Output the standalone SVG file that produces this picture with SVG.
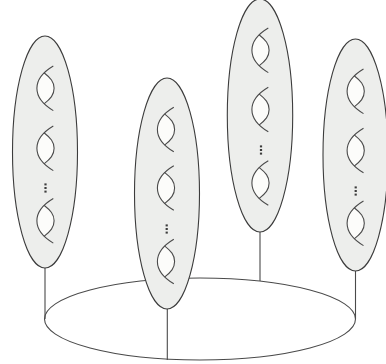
<svg xmlns="http://www.w3.org/2000/svg" width="386" height="364" viewBox="0 0 386 364">
<style>
.l{fill:none;stroke:#4a4a4a;stroke-width:1.1}
.t{fill:none;stroke:#4a4a4a;stroke-width:1.1}
.o{fill:#edeeec;stroke:#3c3c3c;stroke-width:1.1}
.h{fill:#fcfcfa;stroke:none}
.d{fill:#3c3c3c}
</style>
<defs>
<g id="twist">
<path class="h" d="M-1.500 -15.600C-6 -11 -8.600 -6 -8.600 0C-8.600 6 -6 11 -1.500 15.600C5 10.500 8.600 6.500 8.600 0C8.600 -6.500 5 -10.500 -1.500 -15.600Z"/>
<path class="t" d="M7.800 -22.300C-2 -16.500 -8.600 -8.500 -8.600 0C-8.600 8.500 -2 16.500 7.800 22.300"/>
<path class="t" d="M-1.500 -15.600C5 -10.500 8.600 -6.500 8.600 0C8.600 6.500 5 10.500 -1.500 15.600"/>
</g>
<g id="dots">
<rect class="d" x="-1.100" y="-4.600" width="2.200" height="2"/>
<rect class="d" x="-1.100" y="-1" width="2.200" height="2"/>
<rect class="d" x="-1.100" y="2.600" width="2.200" height="2"/>
</g>
</defs>
<g id="connectors">
<path class="l" d="M45 268V319M167.300 309V360M260 232V281M355.500 271V319"/>
</g>
<g id="base"><ellipse class="l" cx="200" cy="319" rx="155.500" ry="41"/></g>
<g id="node-1">
<ellipse class="o" cx="45" cy="152" rx="32.500" ry="116"/>
<use href="#twist" x="45.500" y="88.300"/><use href="#twist" x="45.500" y="148.300"/><use href="#dots" x="45.500" y="188"/><use href="#twist" x="45.500" y="220.800"/>
</g>
<g id="node-2">
<ellipse class="o" cx="167" cy="193.500" rx="32.500" ry="115.500"/>
<use href="#twist" x="166" y="129.500"/><use href="#twist" x="166" y="188"/><use href="#dots" x="166.700" y="229"/><use href="#twist" x="166" y="261.500"/>
</g>
<g id="node-3">
<ellipse class="o" cx="260" cy="115.500" rx="32.700" ry="116.500"/>
<use href="#twist" x="260.500" y="50.300"/><use href="#twist" x="260.500" y="109.500"/><use href="#dots" x="261" y="150"/><use href="#twist" x="260.500" y="183"/>
</g>
<g id="node-4">
<ellipse class="o" cx="355.500" cy="155" rx="32.500" ry="116"/>
<use href="#twist" x="355.700" y="91.300"/><use href="#twist" x="355.700" y="150.500"/><use href="#dots" x="355.700" y="191"/><use href="#twist" x="355.700" y="223.300"/>
</g>
</svg>
